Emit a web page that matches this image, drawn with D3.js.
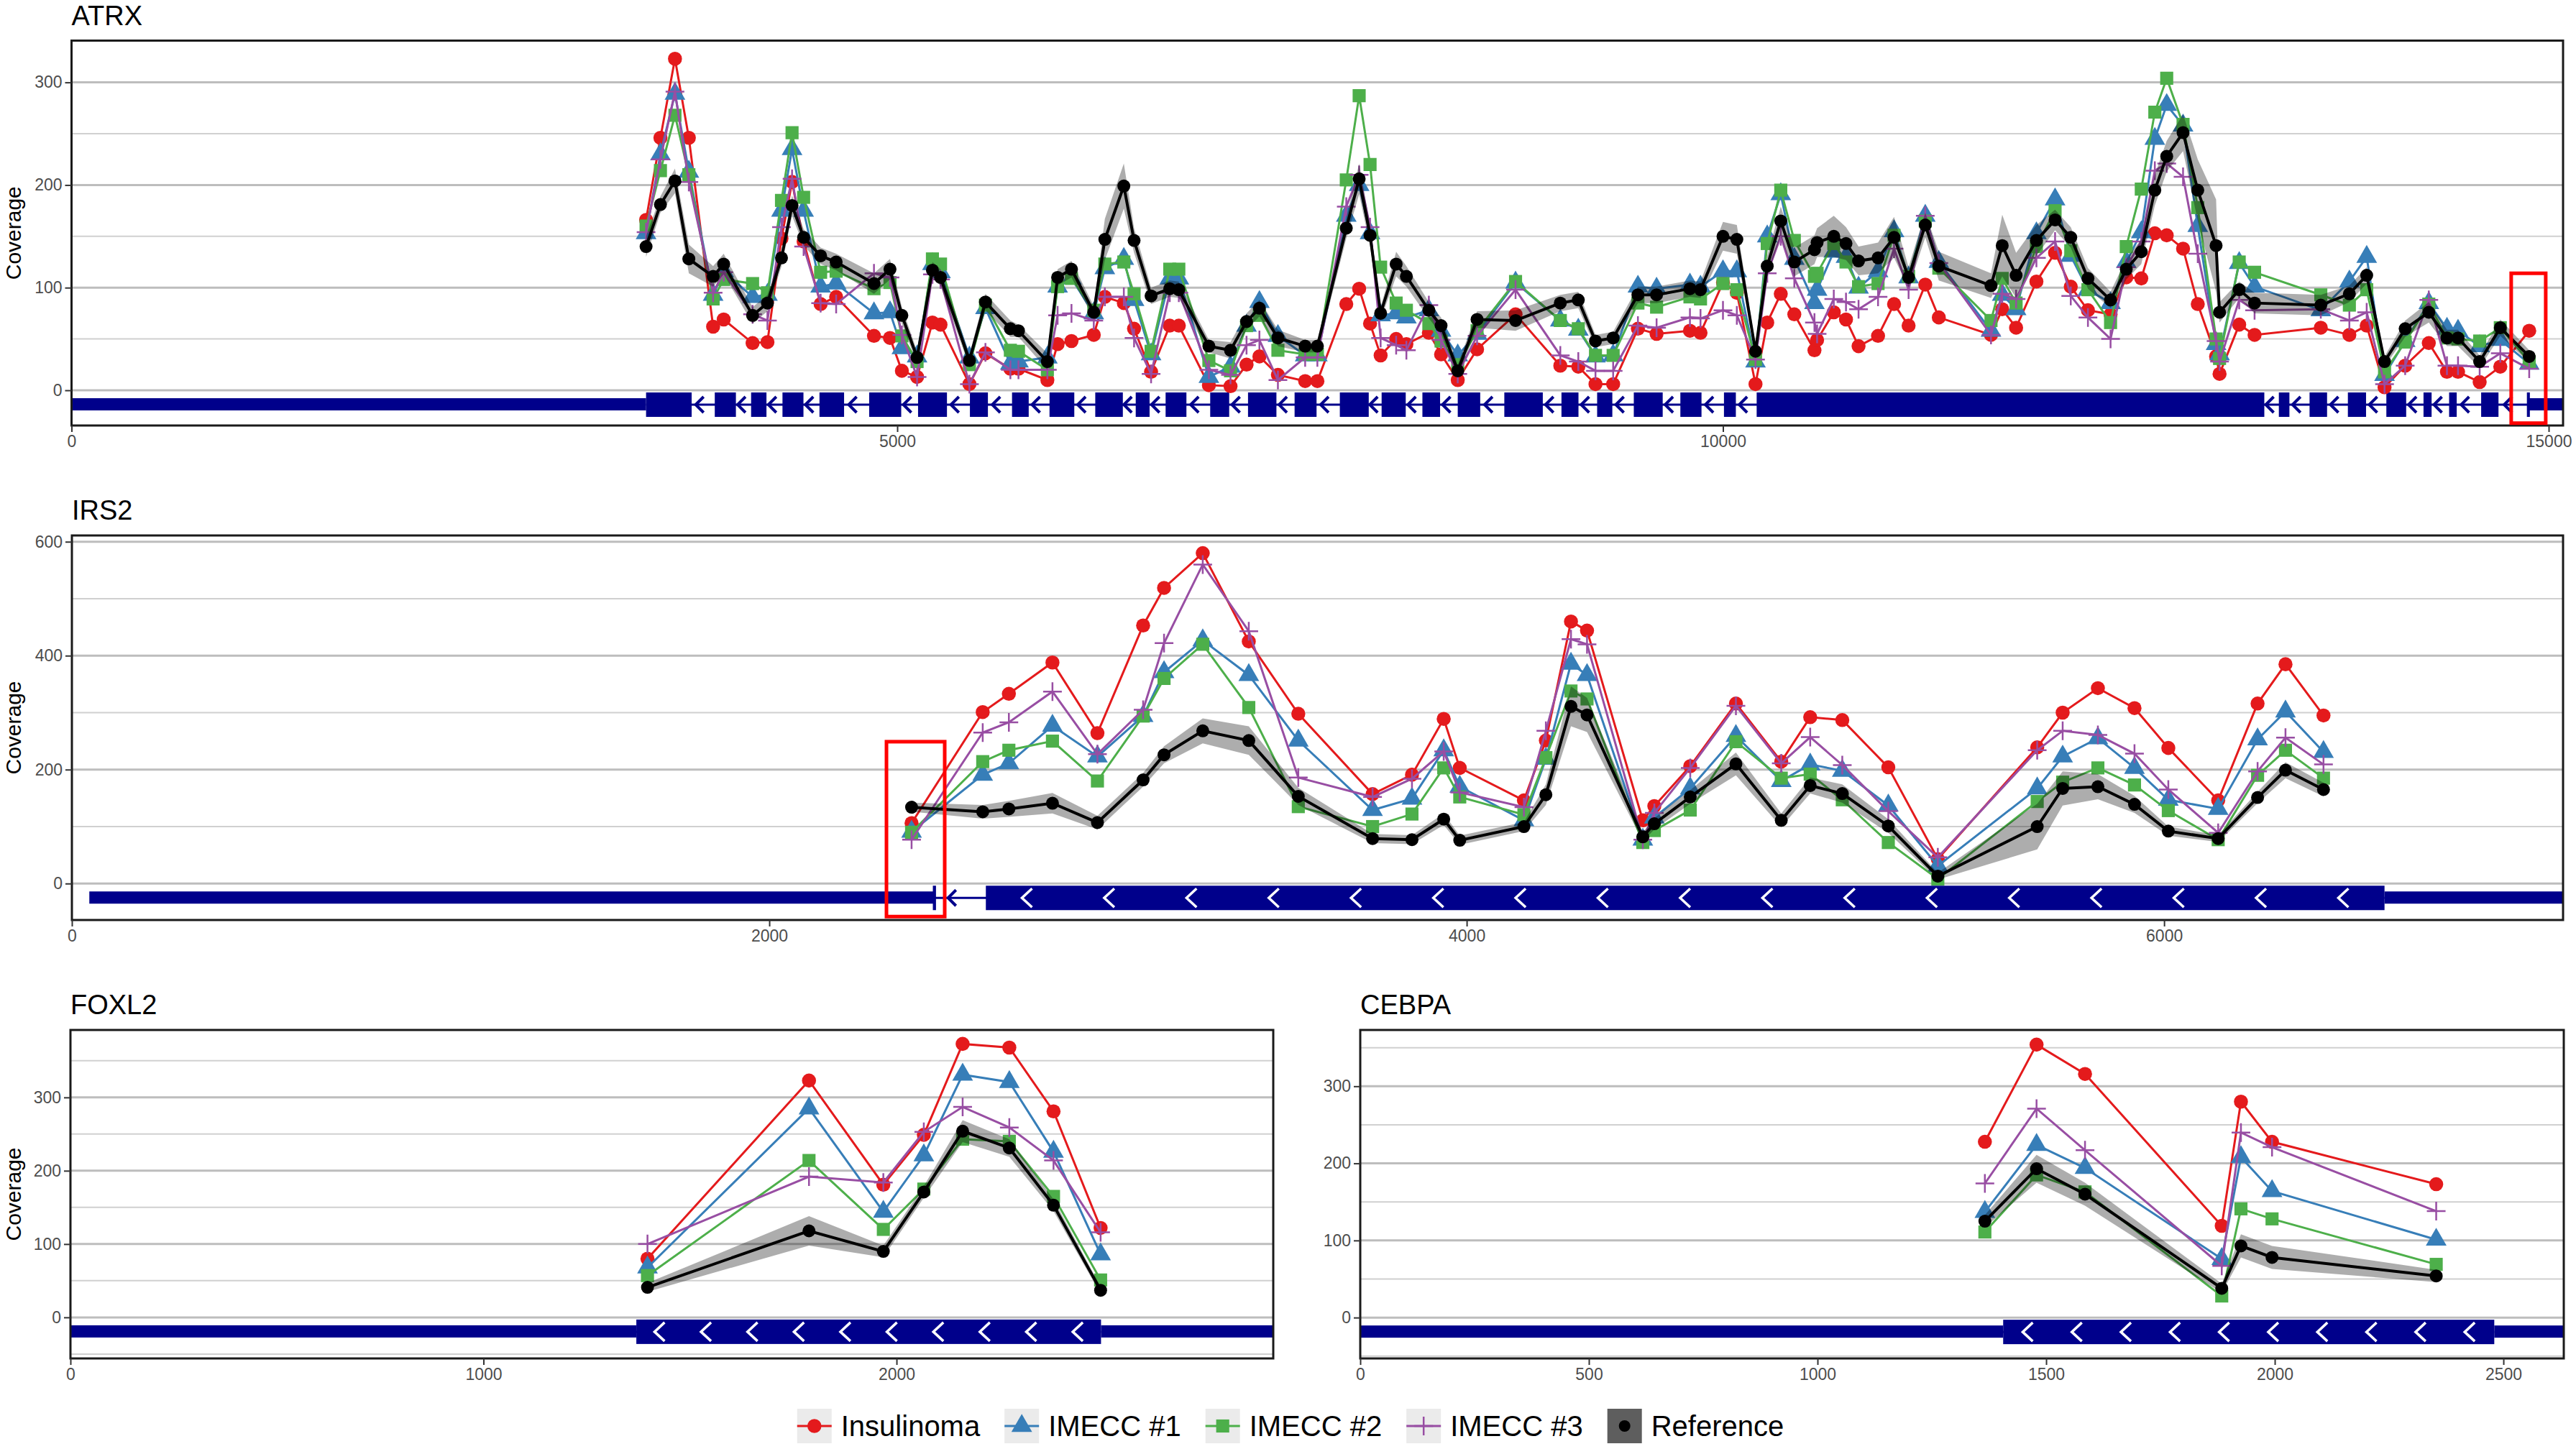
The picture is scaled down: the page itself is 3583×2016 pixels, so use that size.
<!DOCTYPE html>
<html lang="en">
<head>
<meta charset="utf-8">
<title>Coverage</title>
<script src="https://d3js.org/d3.v7.min.js" charset="utf-8"></script>
<style>
body { margin: 0; background: #fff; }
svg { display: block; font-family: "Liberation Sans", Arial, sans-serif; }
</style>
</head>
<body>
<svg id="chart" width="3583" height="2016"></svg>
<script>
// ---- series legend ----
var seriesNames = ["Insulinoma", "IMECC #1", "IMECC #2", "IMECC #3"];
var seriesColors = ["#E41A1C", "#377EB8", "#4DAF4A", "#984EA3"];
var seriesShapes = ["circle", "triangle", "square", "plus"];
var referenceName = "Reference";

// ---- ATRX ----
var atrxPos = [3479,3566,3654,3738,3885,3949,4124,4214,4299,4363,
  4433,4536,4630,4859,4956,5028,5120,5213,5262,5437,
  5534,5685,5734,5909,5971,6055,6190,6257,6372,6434,
  6537,6650,6705,6887,7018,7115,7193,7305,7470,7544,
  7719,7797,7863,7927,8021,8083,8219,8293,8394,8511,
  8744,9015,9124,9228,9335,9485,9598,9800,9864,10000,
  10084,10197,10268,10350,10432,10554,10570,10671,10745,10821,
  10939,11036,11124,11225,11307,11623,11691,11775,11898,12011,
  12106,12210,12347,12442,12533,12615,12687,12786,12875,12986,
  13007,13126,13219,13620,13793,13898,14006,14131,14274,14384,
  14451,14582,14707,14882];
var atrxReference = [140,181,204,128,111,123,73,85,129,180,
  149,131,125,104,118,73,32,117,110,29,
  86,60,58,28,110,118,76,147,199,146,
  92,99,98,43,39,67,80,51,43,43,
  158,206,151,75,123,111,78,63,19,69,
  68,85,88,48,51,93,93,99,98,150,
  147,38,121,165,125,137,144,150,143,126,
  129,149,110,161,121,102,141,112,146,166,
  149,109,88,118,135,195,228,251,195,141,
  76,98,85,83,94,112,28,60,76,51,
  51,28,61,33];
var atrxSpread = [10,8,12,14,10,10,8,8,8,10,
  8,8,8,10,10,8,6,8,8,6,
  8,8,6,8,8,8,6,20,22,12,
  8,8,8,6,8,8,8,8,6,6,
  10,15,10,6,12,10,8,8,6,8,
  10,8,8,6,6,8,8,8,8,14,
  14,5,10,14,14,14,14,20,16,14,
  15,20,10,12,14,12,30,22,15,10,
  10,10,8,10,12,15,15,18,30,45,
  10,8,10,10,8,8,5,8,10,8,
  8,6,8,6];
var atrxInsulinoma = [166,246,323,246,62,69,46,47,148,203,
  145,84,91,53,51,19,13,66,64,6,
  36,21,21,10,45,48,54,91,85,60,
  18,63,63,5,4,25,33,15,9,9,
  84,99,65,34,50,45,56,35,10,40,
  74,24,23,6,6,60,55,58,56,105,
  95,6,66,94,74,39,49,76,69,43,
  53,84,63,103,71,54,79,61,106,134,
  101,78,74,110,109,153,151,138,84,33,
  16,64,54,61,54,63,3,24,46,18,
  18,8,23,58];
var atrxImecc1 = [153,230,289,213,93,116,91,93,175,235,
  175,101,104,75,76,41,33,123,115,32,
  80,26,28,32,101,109,75,119,128,88,
  35,109,109,13,23,63,86,53,34,34,
  170,200,153,73,75,71,78,58,34,55,
  105,68,59,33,34,101,99,103,101,116,
  116,28,150,191,128,85,98,135,130,100,
  116,155,110,170,125,58,93,79,153,186,
  131,98,85,125,154,245,278,258,160,45,
  35,124,101,78,106,130,15,48,85,60,
  58,43,49,26];
var atrxImecc2 = [160,214,268,210,89,108,104,95,185,251,
  188,115,116,99,105,53,28,128,123,25,
  83,39,38,20,101,109,78,123,125,94,
  38,118,118,29,19,63,73,39,35,35,
  205,287,220,120,85,78,65,48,25,58,
  106,68,60,34,34,85,81,91,89,104,
  98,30,143,195,146,111,114,143,125,101,
  104,151,111,165,119,68,109,85,140,175,
  136,98,66,140,196,271,304,259,178,50,
  31,125,115,93,83,98,18,47,84,51,
  50,48,61,28];
var atrxImecc3 = [154,225,291,203,95,115,74,68,159,206,
  140,85,84,114,110,54,13,113,108,6,
  37,20,20,20,73,75,68,91,91,51,
  16,95,95,20,15,44,49,10,32,32,
  179,210,159,51,44,39,83,49,16,53,
  98,34,28,19,19,63,61,71,70,78,
  73,30,114,150,109,66,55,89,86,79,
  91,138,98,170,124,54,94,89,129,145,
  92,71,50,120,145,214,221,208,133,48,
  28,88,78,79,68,76,6,24,88,24,
  24,23,36,21];
var atrxExons = [[3479,3755],[3895,4023],[4115,4208],[4305,4432],[4529,4678],
  [4830,5024],[5126,5301],[5440,5549],[5695,5796],[5922,6072],[6199,6366],
  [6444,6528],[6625,6751],[6895,7010],[7124,7296],[7406,7539],[7680,7855],
  [7933,8079],[8180,8287],[8394,8530],[8676,8909],[9022,9125],[9238,9330],
  [9460,9635],[9742,9870],[10006,10078],[10204,13278],[13366,13430],
  [13552,13658],[13784,13894],[14017,14137],[14242,14291],[14397,14443],
  [14591,14696],[14868,14886]];
var atrxUtr = [[0,3479],[14876,15100]];
var atrxChevrons = [];
var atrxXTicks = [0, 5000, 10000, 15000];
var atrxYTicks = [0, 100, 200, 300];
var atrxYMinor = [50, 150, 250];
var atrxHighlight = [14773, 14982, -32, 114];

// ---- IRS2 ----
var irs2Pos = [2408,2612,2687,2812,2941,3072,3132,3243,3375,3517,
  3730,3843,3934,3980,4164,4227,4299,4345,4505,4538,
  4641,4772,4902,4985,5077,5209,5351,5636,5709,5810,
  5915,6012,6155,6268,6348,6457];
var irs2Reference = [134,126,131,141,107,182,226,268,251,153,
  79,77,113,76,100,156,311,296,82,105,
  152,210,111,172,158,101,13,100,167,170,
  139,92,79,151,199,165];
var irs2Spread = [8,12,14,18,12,12,15,22,25,15,
  8,8,10,8,8,18,35,30,8,10,
  12,20,12,14,16,12,6,40,30,22,
  15,8,6,10,14,12];
var irs2Insulinoma = [106,301,333,388,264,453,519,580,425,298,
  157,191,289,203,146,251,460,444,111,136,
  206,316,214,292,287,204,43,239,300,343,
  308,238,146,316,385,295];
var irs2Imecc1 = [91,191,211,277,223,294,371,427,366,251,
  129,149,234,170,111,219,386,366,77,116,
  167,259,180,209,198,137,31,167,223,255,
  203,147,131,253,302,231];
var irs2Imecc2 = [90,214,234,250,180,294,360,420,309,135,
  100,122,203,152,121,221,338,324,72,93,
  129,249,185,192,147,72,8,144,178,203,
  173,128,77,190,234,185];
var irs2Imecc3 = [77,265,283,337,227,305,422,560,443,186,
  152,184,232,160,134,268,429,420,77,124,
  203,312,211,257,208,127,46,234,268,261,
  228,165,89,197,256,209];
var irs2Exons = [[2469,2478],[2621,6632]];
var irs2Utr = [[50,2474],[6632,7200]];
var irs2Chevrons = [0, 17];
var irs2XTicks = [0, 2000, 4000, 6000];
var irs2YTicks = [0, 200, 400, 600];
var irs2YMinor = [100, 300, 500];
var irs2Highlight = [2336, 2503, -58, 249];

// ---- FOXL2 ----
var foxl2Pos = [1397,1788,1968,2066,2160,2273,2380,2494];
var foxl2Reference = [41,118,90,171,254,231,153,37];
var foxl2Spread = [6,20,8,8,15,12,8,5];
var foxl2Insulinoma = [80,323,181,249,373,368,281,122];
var foxl2Imecc1 = [68,285,144,221,331,321,226,86];
var foxl2Imecc2 = [57,214,120,175,243,240,165,51];
var foxl2Imecc3 = [100,192,184,253,287,259,214,116];
var foxl2Exons = [[1370,2495]];
var foxl2Utr = [[0,1370],[2495,2950]];
var foxl2Chevrons = [10];
var foxl2XTicks = [0, 1000, 2000];
var foxl2YTicks = [0, 100, 200, 300];
var foxl2YMinor = [-50, 50, 150, 250, 350];

// ---- CEBPA ----
var cebpaPos = [1366,1479,1585,1884,1926,1994,2353];
var cebpaReference = [125,193,160,38,93,78,54];
var cebpaSpread = [8,18,15,6,15,15,8];
var cebpaInsulinoma = [228,354,316,119,280,228,173];
var cebpaImecc1 = [137,224,194,76,208,164,101];
var cebpaImecc2 = [111,185,163,28,141,128,69];
var cebpaImecc3 = [174,271,217,67,240,221,138];
var cebpaExons = [[1406,2480]];
var cebpaUtr = [[0,1406],[2480,2700]];
var cebpaChevrons = [10];
var cebpaXTicks = [0, 500, 1000, 1500, 2000, 2500];
var cebpaYTicks = [0, 100, 200, 300];
var cebpaYMinor = [-50, 50, 150, 250, 350];

var navy = "#00008B";
var fontFamily = '"Liberation Sans", Arial, sans-serif';

var panels = [
  {name: "ATRX", left: 99.5, right: 3565, top: 56.5, bottom: 592,
   xDomain: [0, 15087], yDomain: [-34.3, 340.7],
   pos: atrxPos, values: [atrxInsulinoma, atrxImecc1, atrxImecc2, atrxImecc3],
   ref: atrxReference, spread: atrxSpread, exons: atrxExons, utr: atrxUtr,
   chevrons: atrxChevrons, xTicks: atrxXTicks, yTicks: atrxYTicks, yMinor: atrxYMinor,
   highlight: atrxHighlight, yTitle: true},
  {name: "IRS2", left: 100, right: 3565, top: 745, bottom: 1280,
   xDomain: [0, 7144], yDomain: [-64, 611],
   pos: irs2Pos, values: [irs2Insulinoma, irs2Imecc1, irs2Imecc2, irs2Imecc3],
   ref: irs2Reference, spread: irs2Spread, exons: irs2Exons, utr: irs2Utr,
   chevrons: irs2Chevrons, xTicks: irs2XTicks, yTicks: irs2YTicks, yMinor: irs2YMinor,
   highlight: irs2Highlight, yTitle: true},
  {name: "FOXL2", left: 98, right: 1771, top: 1433, bottom: 1890,
   xDomain: [0, 2912], yDomain: [-56, 392],
   pos: foxl2Pos, values: [foxl2Insulinoma, foxl2Imecc1, foxl2Imecc2, foxl2Imecc3],
   ref: foxl2Reference, spread: foxl2Spread, exons: foxl2Exons, utr: foxl2Utr,
   chevrons: foxl2Chevrons, xTicks: foxl2XTicks, yTicks: foxl2YTicks, yMinor: foxl2YMinor,
   highlight: null, yTitle: true},
  {name: "CEBPA", left: 1892, right: 3566, top: 1433, bottom: 1890,
   xDomain: [0, 2632], yDomain: [-53, 373],
   pos: cebpaPos, values: [cebpaInsulinoma, cebpaImecc1, cebpaImecc2, cebpaImecc3],
   ref: cebpaReference, spread: cebpaSpread, exons: cebpaExons, utr: cebpaUtr,
   chevrons: cebpaChevrons, xTicks: cebpaXTicks, yTicks: cebpaYTicks, yMinor: cebpaYMinor,
   highlight: null, yTitle: false}
];

var svg = d3.select("#chart");
svg.append("rect").attr("width", 3583).attr("height", 2016).attr("fill", "#fff");
var defs = svg.append("defs");

function markerPath(shape) {
  if (shape === "circle") return d3.symbol(d3.symbolCircle, 300)();
  if (shape === "triangle") return d3.symbol(d3.symbolTriangle, 360)();
  if (shape === "square") return d3.symbol(d3.symbolSquare, 330)();
  return "M-13,0H13M0,-13V13";
}

function drawMarkers(sel, pts, shape, color, x, y) {
  sel.selectAll(null).data(pts).join("path")
    .attr("d", markerPath(shape))
    .attr("transform", function(d) { return "translate(" + x(d[0]) + "," + y(d[1]) + ")"; })
    .attr("fill", shape === "plus" ? "none" : color)
    .attr("stroke", shape === "plus" ? color : "none")
    .attr("stroke-width", 2.5);
}

function styleAxis(g) {
  g.select(".domain").remove();
  g.attr("font-size", 23).attr("font-family", fontFamily);
  g.selectAll(".tick line").attr("stroke", "#333").attr("stroke-width", 2);
  g.selectAll(".tick text").attr("fill", "#4d4d4d");
}

function drawPanel(p) {
  var x = d3.scaleLinear().domain(p.xDomain).range([p.left, p.right]);
  var y = d3.scaleLinear().domain(p.yDomain).range([p.bottom, p.top]);
  var clipId = "clip-" + p.name;
  defs.append("clipPath").attr("id", clipId).append("rect")
    .attr("x", p.left).attr("y", p.top)
    .attr("width", p.right - p.left).attr("height", p.bottom - p.top);

  var g = svg.append("g");
  var plot = g.append("g").attr("clip-path", "url(#" + clipId + ")");
  var inRange = function(v) { return v > p.yDomain[0] && v < p.yDomain[1]; };

  // grid lines
  plot.append("g").selectAll("line").data(p.yMinor.filter(inRange)).join("line")
    .attr("x1", p.left).attr("x2", p.right)
    .attr("y1", function(d) { return y(d); }).attr("y2", function(d) { return y(d); })
    .attr("stroke", "#d0d0d0").attr("stroke-width", 2);
  plot.append("g").selectAll("line").data(p.yTicks.filter(inRange)).join("line")
    .attr("x1", p.left).attr("x2", p.right)
    .attr("y1", function(d) { return y(d); }).attr("y2", function(d) { return y(d); })
    .attr("stroke", "#bdbdbd").attr("stroke-width", 3);

  // gene model under the zero line
  var zero = y(0);
  var gene = plot.append("g");
  var first = p.exons[0][0], last = p.exons[p.exons.length - 1][1];
  gene.append("line")
    .attr("x1", x(first)).attr("x2", x(last))
    .attr("y1", zero + 20).attr("y2", zero + 20)
    .attr("stroke", navy).attr("stroke-width", 3);
  gene.selectAll(".utr").data(p.utr).join("rect").attr("class", "utr")
    .attr("x", function(d) { return x(d[0]); })
    .attr("width", function(d) { return x(d[1]) - x(d[0]); })
    .attr("y", zero + 11).attr("height", 17).attr("fill", navy);
  gene.selectAll(".exon").data(p.exons).join("rect").attr("class", "exon")
    .attr("x", function(d) { return x(d[0]); })
    .attr("width", function(d) { return Math.max(3, x(d[1]) - x(d[0])); })
    .attr("y", zero + 3).attr("height", 34).attr("fill", navy);
  var gaps = d3.pairs(p.exons).map(function(pr) { return [pr[0][1], pr[1][0]]; });
  gene.selectAll(".arrow").data(gaps).join("path").attr("class", "arrow")
    .attr("d", "M7,-11L-4,0L7,11")
    .attr("transform", function(d) { return "translate(" + x(d[0] + (d[1] - d[0]) * 0.3) + "," + (zero + 20) + ")"; })
    .attr("fill", "none").attr("stroke", navy).attr("stroke-width", 4);
  var chev = [];
  p.chevrons.forEach(function(n, i) {
    var s = p.exons[i][0], e = p.exons[i][1];
    d3.range(n).forEach(function(k) { chev.push(s + (e - s) * (k + 0.5) / n); });
  });
  gene.selectAll(".chev").data(chev).join("path").attr("class", "chev")
    .attr("d", "M7,-13L-7,0L7,13")
    .attr("transform", function(d) { return "translate(" + x(d) + "," + (zero + 20) + ")"; })
    .attr("fill", "none").attr("stroke", "#fff").attr("stroke-width", 3.5);

  // samples
  var line = d3.line().x(function(d) { return x(d[0]); }).y(function(d) { return y(d[1]); });
  p.values.forEach(function(vals, i) {
    var pts = p.pos.map(function(px, j) { return [px, vals[j]]; });
    plot.append("path").datum(pts).attr("d", line)
      .attr("fill", "none").attr("stroke", seriesColors[i]).attr("stroke-width", 3);
    drawMarkers(plot.append("g"), pts, seriesShapes[i], seriesColors[i], x, y);
  });

  // reference with ribbon
  var refPts = p.pos.map(function(px, j) { return [px, p.ref[j], p.spread[j]]; });
  var area = d3.area()
    .x(function(d) { return x(d[0]); })
    .y0(function(d) { return y(d[1] - d[2]); })
    .y1(function(d) { return y(d[1] + d[2]); });
  plot.append("path").datum(refPts).attr("d", area).attr("fill", "#000").attr("fill-opacity", 0.32);
  plot.append("path").datum(refPts).attr("d", line)
    .attr("fill", "none").attr("stroke", "#000").attr("stroke-width", 4);
  plot.append("g").selectAll("circle").data(refPts).join("circle")
    .attr("cx", function(d) { return x(d[0]); }).attr("cy", function(d) { return y(d[1]); })
    .attr("r", 9).attr("fill", "#000");

  // frame
  g.append("rect").attr("x", p.left).attr("y", p.top)
    .attr("width", p.right - p.left).attr("height", p.bottom - p.top)
    .attr("fill", "none").attr("stroke", "#1a1a1a").attr("stroke-width", 3);

  // axes
  g.append("g").attr("transform", "translate(0," + p.bottom + ")")
    .call(d3.axisBottom(x).tickValues(p.xTicks).tickSize(9).tickPadding(5).tickFormat(d3.format("d")))
    .call(styleAxis);
  g.append("g").attr("transform", "translate(" + p.left + ",0)")
    .call(d3.axisLeft(y).tickValues(p.yTicks).tickSize(9).tickPadding(4).tickFormat(d3.format("d")))
    .call(styleAxis);

  g.append("text").attr("x", p.left).attr("y", p.top - 22)
    .attr("font-size", 38).attr("fill", "#000").text(p.name);

  if (p.yTitle) {
    g.append("text")
      .attr("transform", "translate(29," + ((p.top + p.bottom) / 2) + ") rotate(-90)")
      .attr("text-anchor", "middle").attr("font-size", 30).attr("fill", "#000")
      .text("Coverage");
  }

  if (p.highlight) {
    var h = p.highlight;
    g.append("rect").attr("x", x(h[0])).attr("y", y(h[3]))
      .attr("width", x(h[1]) - x(h[0])).attr("height", y(h[2]) - y(h[3]))
      .attr("fill", "none").attr("stroke", "#ff0000").attr("stroke-width", 5);
  }
}

panels.forEach(drawPanel);

// legend
var legend = svg.append("g").attr("font-family", fontFamily).attr("font-size", 40);
var legendItems = seriesNames.map(function(n, i) {
  return {name: n, color: seriesColors[i], shape: seriesShapes[i], ref: false};
}).concat([{name: referenceName, color: "#000", shape: "circle", ref: true}]);
var cursor = 0;
legendItems.forEach(function(it) {
  var item = legend.append("g").attr("transform", "translate(" + cursor + ",0)");
  item.append("rect").attr("width", 48).attr("height", 48)
    .attr("fill", it.ref ? "#5e5e5e" : "#ebebeb");
  if (it.ref) {
    item.append("circle").attr("cx", 24).attr("cy", 24).attr("r", 8).attr("fill", "#000");
  } else {
    item.append("line").attr("x1", 0).attr("x2", 48).attr("y1", 24).attr("y2", 24)
      .attr("stroke", it.color).attr("stroke-width", 3);
    item.append("path").attr("d", markerPath(it.shape)).attr("transform", "translate(24,24)")
      .attr("fill", it.shape === "plus" ? "none" : it.color)
      .attr("stroke", it.shape === "plus" ? it.color : "none").attr("stroke-width", 2.5);
  }
  var t = item.append("text").attr("x", 61).attr("y", 38).attr("fill", "#000").text(it.name);
  cursor += 61 + t.node().getComputedTextLength() + 34;
});
legend.attr("transform", "translate(" + (1795 - (cursor - 34) / 2) + ",1960)");
</script>
</body>
</html>
